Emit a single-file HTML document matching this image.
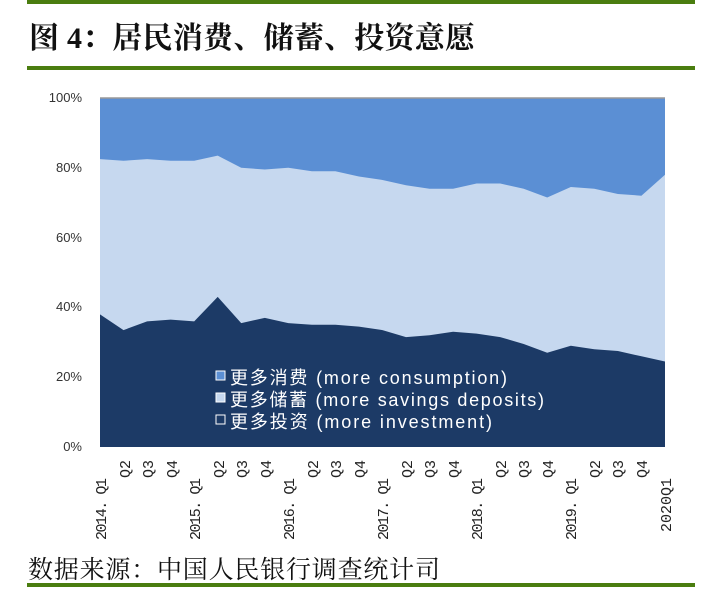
<!DOCTYPE html>
<html><head><meta charset="utf-8"><style>
body{margin:0;background:#fff;width:727px;height:587px;overflow:hidden;font-family:"Liberation Sans","Noto Sans CJK SC",sans-serif}
</style></head><body>
<svg width="727" height="587" viewBox="0 0 727 587" xmlns="http://www.w3.org/2000/svg">
<rect x="27" y="0" width="668" height="4" fill="#4a7d0f"/>
<text x="29" y="48" font-family="'Liberation Serif','Noto Serif CJK SC',serif" font-size="30" font-weight="bold" fill="#111" textLength="446">图 4：居民消费、储蓄、投资意愿</text>
<rect x="27" y="66" width="668" height="4" fill="#4a7d0f"/>
<rect x="100" y="98" width="565" height="349" fill="#5b8fd4"/>
<polygon fill="#c6d8ef" points="100,159.1 123.5,160.8 147.1,159.1 170.6,160.8 194.2,160.8 217.7,155.6 241.2,167.8 264.8,169.5 288.3,167.8 311.9,171.3 335.4,171.3 358.9,176.5 382.5,180 406,185.3 429.5,188.7 453.1,188.7 476.6,183.5 500.2,183.5 523.7,188.7 547.2,197.5 570.8,187 594.3,188.7 617.9,194 641.4,195.7 665,174.8 665,447 100,447"/>
<polygon fill="#1c3a66" points="100,314.4 123.5,330.1 147.1,321.4 170.6,319.6 194.2,321.4 217.7,296.9 241.2,323.1 264.8,317.9 288.3,323.1 311.9,324.8 335.4,324.8 358.9,326.6 382.5,330.1 406,337.1 429.5,335.3 453.1,331.8 476.6,333.6 500.2,337.1 523.7,344 547.2,352.8 570.8,345.8 594.3,349.3 617.9,351 641.4,356.3 665,361.5 665,447 100,447"/>
<line x1="100" y1="98" x2="665" y2="98" stroke="#999" stroke-width="1.5"/>
<g font-size="13" fill="#333" text-anchor="end">
<text x="82" y="102">100%</text><text x="82" y="172">80%</text><text x="82" y="242">60%</text><text x="82" y="311">40%</text><text x="82" y="381">20%</text><text x="82" y="451">0%</text>
</g>
<g font-size="18" fill="#fff">
<rect x="216" y="371" width="9" height="9" fill="#5b8fd4" stroke="#fff" stroke-width="1"/>
<text x="230" y="384" textLength="277">更多消费 (more consumption)</text>
<rect x="216" y="393" width="9" height="9" fill="#c6d8ef" stroke="#fff" stroke-width="1"/>
<text x="230" y="406" textLength="314">更多储蓄 (more savings deposits)</text>
<rect x="216" y="415" width="9" height="9" fill="#1c3a66" stroke="#fff" stroke-width="1"/>
<text x="230" y="428" textLength="262">更多投资 (more investment)</text>
</g>
<g font-family="'Liberation Mono',monospace" font-size="15" fill="#222">
<text transform="translate(106,540) rotate(-90)" textLength="62">2014. Q1</text>
<text transform="translate(130,478) rotate(-90)">Q2</text>
<text transform="translate(153,478) rotate(-90)">Q3</text>
<text transform="translate(177,478) rotate(-90)">Q4</text>
<text transform="translate(200,540) rotate(-90)" textLength="62">2015. Q1</text>
<text transform="translate(224,478) rotate(-90)">Q2</text>
<text transform="translate(247,478) rotate(-90)">Q3</text>
<text transform="translate(271,478) rotate(-90)">Q4</text>
<text transform="translate(294,540) rotate(-90)" textLength="62">2016. Q1</text>
<text transform="translate(318,478) rotate(-90)">Q2</text>
<text transform="translate(341,478) rotate(-90)">Q3</text>
<text transform="translate(365,478) rotate(-90)">Q4</text>
<text transform="translate(388,540) rotate(-90)" textLength="62">2017. Q1</text>
<text transform="translate(412,478) rotate(-90)">Q2</text>
<text transform="translate(435,478) rotate(-90)">Q3</text>
<text transform="translate(459,478) rotate(-90)">Q4</text>
<text transform="translate(482,540) rotate(-90)" textLength="62">2018. Q1</text>
<text transform="translate(506,478) rotate(-90)">Q2</text>
<text transform="translate(529,478) rotate(-90)">Q3</text>
<text transform="translate(553,478) rotate(-90)">Q4</text>
<text transform="translate(576,540) rotate(-90)" textLength="62">2019. Q1</text>
<text transform="translate(600,478) rotate(-90)">Q2</text>
<text transform="translate(623,478) rotate(-90)">Q3</text>
<text transform="translate(647,478) rotate(-90)">Q4</text>
<text transform="translate(671,532) rotate(-90)" textLength="54">2020Q1</text>
</g>
<text x="28" y="578" font-family="'Liberation Serif','Noto Serif CJK SC',serif" font-size="25" fill="#111" textLength="412">数据来源：中国人民银行调查统计司</text>
<rect x="27" y="583" width="668" height="4" fill="#4a7d0f"/>
</svg>
</body></html>
